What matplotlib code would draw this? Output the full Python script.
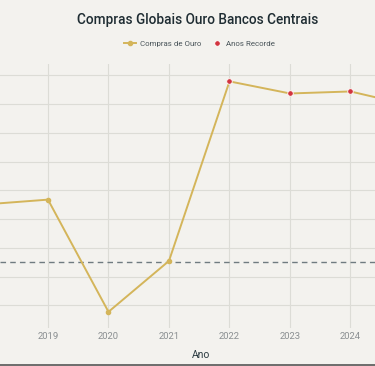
import matplotlib.pyplot as plt
from matplotlib.lines import Line2D

# Compras de ouro dos bancos centrais (toneladas)
anos = [2018, 2019, 2020, 2021, 2022, 2023, 2024, 2025]
compras = [652, 668, 278, 455, 1079, 1037, 1044, 995]
anos_recorde = [2022, 2023, 2024]
compras_recorde = [1079, 1037, 1044]
media = 452

bg = '#f3f2ee'
gold = '#d4b55a'
red = '#d2343f'

plt.rcParams['font.family'] = ['Roboto', 'DejaVu Sans']

fig = plt.figure(figsize=(3.75, 3.66), dpi=100, facecolor=bg)
# the reference is a crop, so the axes run past the figure edges
ax = fig.add_axes([0.0, 0.104, 1.0, 0.72], facecolor=bg)

ax.plot(anos, compras, color=gold, linewidth=1.4, marker='o', markersize=3,
        label='Compras de Ouro', zorder=3)
ax.plot(anos_recorde, compras_recorde, linestyle='none', marker='o',
        markersize=4, color=red, markeredgecolor='white', markeredgewidth=0.6,
        label='Anos Recorde', zorder=4)
ax.axhline(media, color='#6f7b80', linestyle=(0, (4, 3)), linewidth=1, zorder=2)

ax.set_xlim(2018.207, 2024.405)
ax.set_ylim(222, 1138)
ax.set_xticks([2019, 2020, 2021, 2022, 2023, 2024])
ax.set_yticks(range(300, 1200, 100))
ax.set_yticklabels([])
ax.tick_params(axis='x', length=0, labelsize=6.8, colors='#8a8f91', pad=3)
ax.tick_params(axis='y', length=0)
ax.grid(True, color='#dcdcd6', linewidth=0.8)
ax.set_axisbelow(True)
for s in ax.spines.values():
    s.set_visible(False)

ax.set_xlabel('Ano', fontsize=7.5, color='#2a3a40')
ax.xaxis.set_label_coords(0.535, -0.085)

fig.suptitle('Compras Globais Ouro Bancos Centrais', x=0.527, y=0.965,
             fontsize=9.8, fontweight='medium', color='#1f2d33')
fig.legend(loc='center', bbox_to_anchor=(0.532, 0.88), ncol=2, frameon=False,
           fontsize=5.7, labelcolor='#4a555a', handlelength=1.6,
           columnspacing=1.2, handletextpad=0.4)

fig.add_artist(Line2D([0, 1], [0.003, 0.003], color='#555555', linewidth=1.2))

fig.savefig('out.png', dpi=100, facecolor=bg)
